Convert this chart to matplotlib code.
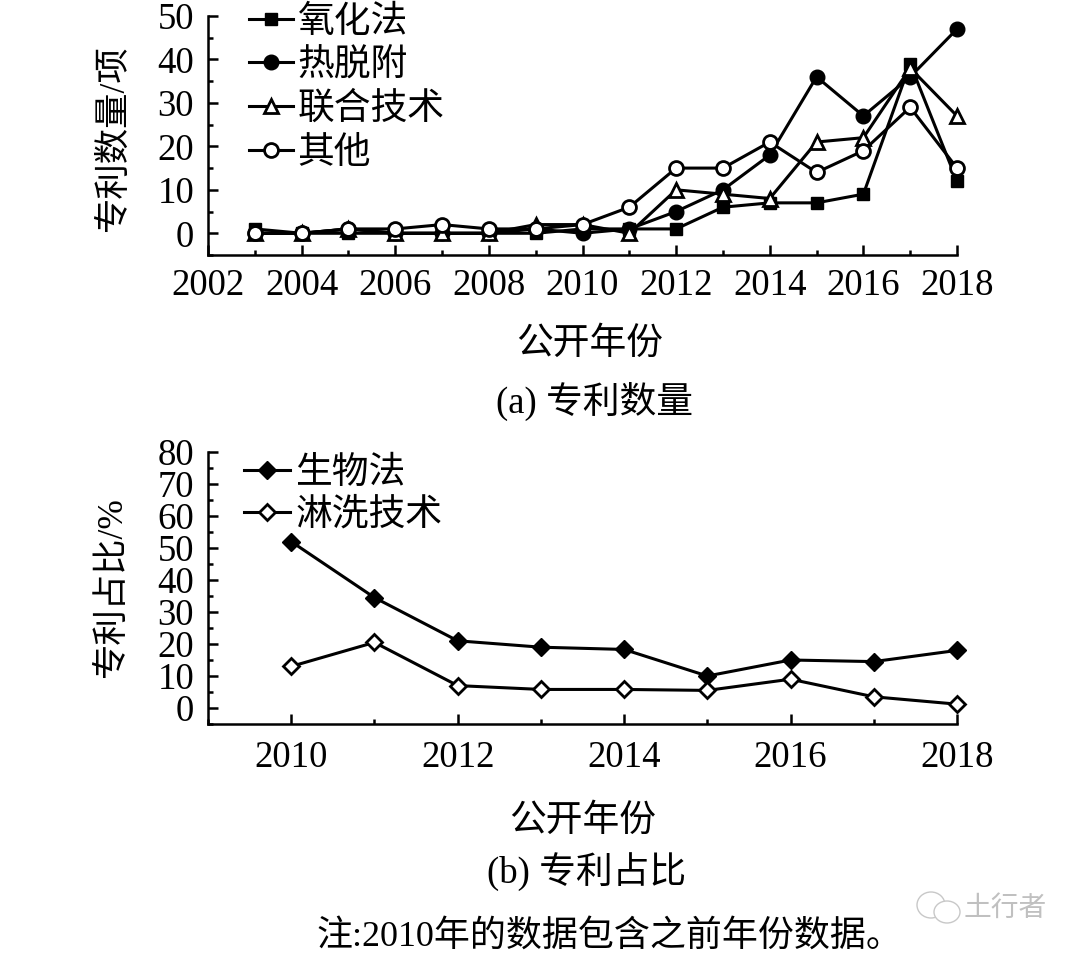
import matplotlib
matplotlib.use("Agg")
import matplotlib.pyplot as plt
from matplotlib.patches import Ellipse
from matplotlib.ticker import MultipleLocator

plt.rcParams['font.family'] = ['Liberation Serif', 'Noto Sans CJK SC']
plt.rcParams['axes.unicode_minus'] = False

# (a) 专利数量
years_a = list(range(2003, 2019))
yanghua = [1, 0, 0, 0, 0, 0, 0, 1, 1, 1, 6, 7, 7, 9, 39, 12]
tuofu = [0, 0, 1, 0, 0, 0, 1, 0, 1, 5, 10, 18, 36, 27, 36, 47]
lianhe = [0, 0, 1, 0, 0, 0, 2, 2, 0, 10, 9, 8, 21, 22, 38, 27]
qita = [0, 0, 1, 1, 2, 1, 1, 2, 6, 15, 15, 21, 14, 19, 29, 15]

# (b) 专利占比
years_b = list(range(2010, 2019))
shengwu = [52, 34.5, 21, 19, 18.3, 10, 15, 14.5, 18]
linxi = [13, 20.5, 7, 5.8, 5.8, 5.5, 9, 3.5, 1.2]

W, H = 1080, 957
fig = plt.figure(figsize=(W / 100, H / 100), dpi=100)

def box(left, top, right, bottom):
    return [left / W, 1 - bottom / H, (right - left) / W, (bottom - top) / H]

def clean(ax, pad):
    for s in ['top', 'right']:
        ax.spines[s].set_visible(False)
    for s in ['left', 'bottom']:
        ax.spines[s].set_linewidth(1.8)
    ax.tick_params(which='major', direction='in', length=7.5, width=1.8, labelsize=26.5)
    ax.tick_params(which='minor', direction='in', length=3.8, width=1.8)
    ax.tick_params(axis='x', which='major', pad=pad)
    ax.tick_params(axis='y', which='major', pad=10)
    ax.patch.set_alpha(0)

def txt(x, y, s, size=26.5, **kw):
    fig.text(x / W, 1 - y / H, s, fontsize=size, ha='center', va='center', **kw)

lw = 2.2
ax1 = fig.add_axes(box(208, 16, 957, 255))
ax1.plot(years_a, yanghua, '-s', color='k', lw=lw, ms=9, mfc='k', mec='k', clip_on=False, label='氧化法')
ax1.plot(years_a, tuofu, '-o', color='k', lw=lw, ms=10.5, mfc='k', mec='k', clip_on=False, label='热脱附')
ax1.plot(years_a, lianhe, '-^', color='k', lw=lw, ms=10.5, mfc='w', mec='k', mew=2, clip_on=False, label='联合技术')
ax1.plot(years_a, qita, '-o', color='k', lw=lw, ms=10, mfc='w', mec='k', mew=2, clip_on=False, label='其他')
ax1.set_xlim(2002, 2018)
ax1.set_ylim(-5, 50)
ax1.xaxis.set_major_locator(MultipleLocator(2))
ax1.xaxis.set_minor_locator(MultipleLocator(1))
ax1.set_yticks([0, 10, 20, 30, 40, 50])
ax1.yaxis.set_minor_locator(MultipleLocator(5))
clean(ax1, 10)
ax1.legend(loc='upper left', bbox_to_anchor=(0.055, 1.046), frameon=False, fontsize=26.5,
           handlelength=1.2, handletextpad=0.12, labelspacing=0.25, borderpad=0, borderaxespad=0)

ax2 = fig.add_axes(box(208, 452, 957, 724))
ax2.plot(years_b, shengwu, '-D', color='k', lw=lw, ms=9, mfc='k', mec='k', clip_on=False, label='生物法')
ax2.plot(years_b, linxi, '-D', color='k', lw=lw, ms=8, mfc='w', mec='k', mew=2, clip_on=False, label='淋洗技术')
ax2.set_xlim(2009, 2018)
ax2.set_ylim(-5, 80)
ax2.set_xticks([2010, 2012, 2014, 2016, 2018])
ax2.xaxis.set_minor_locator(MultipleLocator(1))
ax2.yaxis.set_major_locator(MultipleLocator(10))
ax2.yaxis.set_minor_locator(MultipleLocator(5))
clean(ax2, 12)
ax2.legend(loc='upper left', bbox_to_anchor=(0.048, 0.985), frameon=False, fontsize=26.5,
           handlelength=1.25, handletextpad=0.14, labelspacing=0.2, borderpad=0, borderaxespad=0)

txt(114, 139, '专利数量/项', size=25.5, rotation=90)
txt(112, 588, '专利占比/%', size=25.5, rotation=90)
txt(590, 345, '公开年份')
txt(594, 401, '(a) 专利数量')
txt(583, 822, '公开年份')
txt(587, 872, '(b) 专利占比')
txt(609, 937, '注:2010年的数据包含之前年份数据。', size=25.9)

# 水印
txt(1005, 909, '土行者', size=20, color='#c0c0c0')
for cx, cy, w, h in [(931, 905, 28, 26), (947, 912, 26, 22)]:
    fig.add_artist(Ellipse((cx / W, 1 - cy / H), w / W, h / H, transform=fig.transFigure,
                           fc='w', ec='#c8c8c8', lw=1))

fig.savefig('out.png', dpi=100)
